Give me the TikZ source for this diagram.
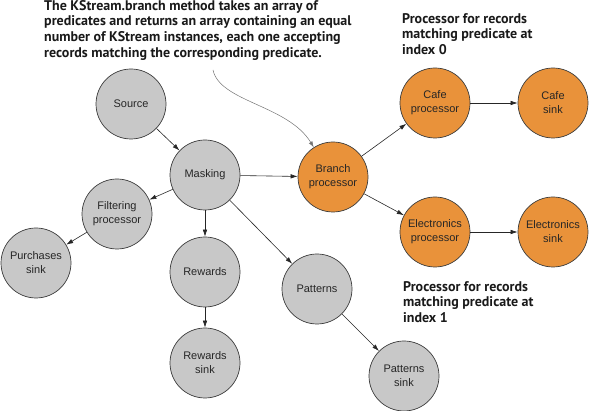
\documentclass[tikz,border=0pt]{standalone}
\usepackage{fontspec}
\setmainfont{Liberation Sans}
\newfontfamily\notefont{PT Sans}
\usetikzlibrary{arrows.meta}
\definecolor{greyfill}{RGB}{200,200,200}
\definecolor{orangefill}{RGB}{233,146,58}
\definecolor{edgeline}{RGB}{60,60,60}
\begin{document}
\begin{tikzpicture}[x=1pt,y=-1pt,
  proc/.style={circle, draw=edgeline, line width=0.7pt, minimum size=70pt, inner sep=0pt,
    align=center, font=\fontsize{11}{14}\selectfont, text=black!85},
  greynode/.style={proc, fill=greyfill},
  orangenode/.style={proc, fill=orangefill},
  flow/.style={draw=black!85, line width=0.6pt, -{Latex[length=7pt,width=4.5pt]}},
  callout/.style={draw=black!55, line width=0.5pt, -{Latex[length=6pt,width=4pt]}},
  note/.style={font=\notefont\bfseries\fontsize{14}{15.7}\selectfont, align=left,
    anchor=north west, inner sep=0pt, text=black!90}]
\useasboundingbox (0,0) rectangle (590,411);

% nodes
\node[greynode]   (src)  at (131,104) {Source};
\node[greynode]   (mask) at (205,175) {Masking};
\node[greynode]   (filt) at (117,214) {Filtering\\processor};
\node[greynode]   (purch) at (36,263) {Purchases\\sink};
\node[greynode]   (rew)  at (205,272) {Rewards};
\node[greynode]   (rews) at (205,363) {Rewards\\sink};
\node[greynode]   (pat)  at (317,289) {Patterns};
\node[greynode]   (pats) at (404,376) {Patterns\\sink};
\node[orangenode] (br)   at (333,177) {Branch\\processor};
\node[orangenode] (cafe) at (435,103) {Cafe\\processor};
\node[orangenode] (cafes) at (553,103) {Cafe\\sink};
\node[orangenode] (elec) at (435,232) {Electronics\\processor};
\node[orangenode] (elecs) at (553,232) {Electronics\\sink};

% notes
\node[note] (title) at (44,0) {The KStream.branch method takes an array of\\predicates and returns an array containing an equal\\number of KStream instances, each one accepting\\records matching the corresponding predicate.};
\node[note] (n0) at (402,13) {Processor for records\\matching predicate at\\index 0};
\node[note] (n1) at (403,281) {Processor for records\\matching predicate at\\index 1};

% connectors
\draw[flow] (src) -- (mask);
\draw[flow] (mask) -- (filt);
\draw[flow] (filt) -- (purch);
\draw[flow] (mask) -- (rew);
\draw[flow] (rew) -- (rews);
\draw[flow] (mask) -- (pat);
\draw[flow] (pat) -- (pats);
\draw[flow] (mask) -- (br);
\draw[flow] (br) -- (cafe);
\draw[flow] (br) -- (elec);
\draw[flow] (cafe) -- (cafes);
\draw[flow] (elec) -- (elecs);

\coordinate (ct) at (213,70);
\draw[callout] (ct) .. controls (220,102) and (288,105) .. (br.123);
\end{tikzpicture}
\end{document}
